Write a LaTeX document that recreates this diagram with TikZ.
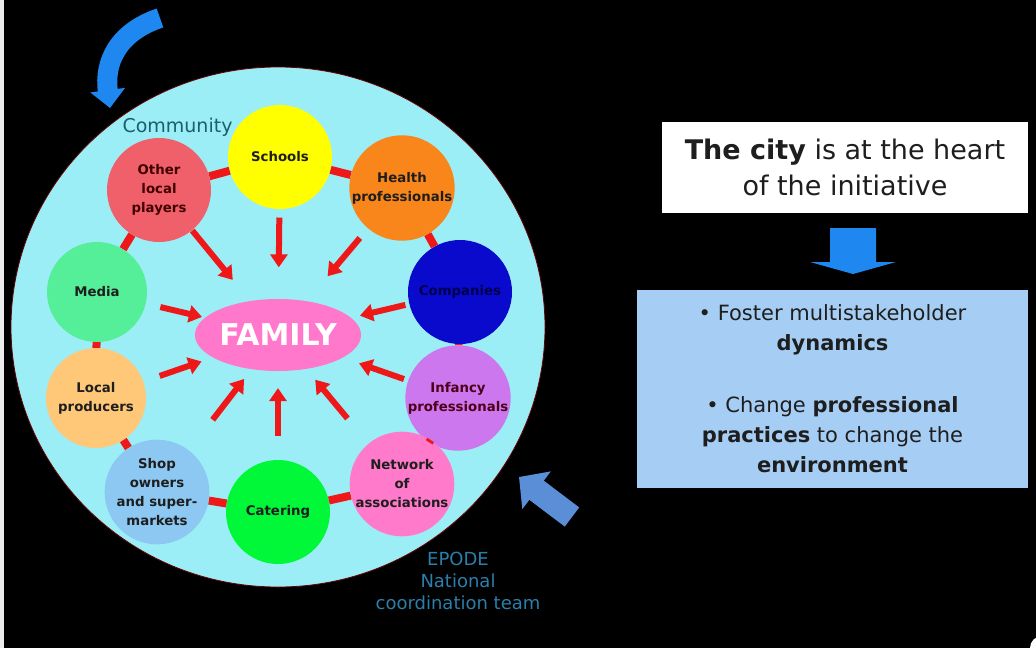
\documentclass[tikz,border=0pt]{standalone}
\usepackage{fontspec}
\setmainfont{DejaVu Sans}
\usetikzlibrary{arrows.meta,calc,shapes.geometric}
\definecolor{cyanbg}{HTML}{9CEEF6}
\definecolor{redl}{HTML}{EE1818}
\definecolor{cschool}{HTML}{FFFF00}
\definecolor{chealth}{HTML}{F8861A}
\definecolor{ccomp}{HTML}{0A0ACC}
\definecolor{cinf}{HTML}{CC77EE}
\definecolor{cnet}{HTML}{FF7ACB}
\definecolor{ccat}{HTML}{00F838}
\definecolor{cshop}{HTML}{8CC8F2}
\definecolor{cloc}{HTML}{FFC879}
\definecolor{cmedia}{HTML}{55EE99}
\definecolor{cother}{HTML}{F0606A}
\definecolor{cfam}{HTML}{FF78CC}
\definecolor{bluearr}{HTML}{1E88F0}
\definecolor{steel}{HTML}{5A8FD8}
\definecolor{teal}{HTML}{1A5F70}
\definecolor{epode}{HTML}{2A80AA}
\definecolor{boxblue}{HTML}{A6CEF4}
\definecolor{txt}{HTML}{1E1E1E}
\tikzset{
  actor/.style={circle, minimum size=104pt, inner sep=0pt, align=center,
    font=\fontsize{13.3}{19}\selectfont\bfseries, text=txt},
  link/.style={redl, line width=8pt},
  redarrow/.style={redl, line width=6pt, -{Triangle[width=17pt,length=13pt]}},
}
\begin{document}
\begin{tikzpicture}[x=1pt,y=-1pt]
\fill[black] (0,0) rectangle (1036,648);
\useasboundingbox (0,0) rectangle (1036,648);
\fill[white!85!gray] (0,0) rectangle (4,648);
\fill[white] (1042,648) circle (12pt);
% big community circle
\node[ellipse, fill=cyanbg, draw=red!40!black, line width=0.8pt, minimum width=534pt, minimum height=520pt, inner sep=0pt] (comm) at (278,327) {};
\node[text=teal, font=\fontsize{19}{21}\selectfont, anchor=west] (commlab) at (119,127) {Community};
% actors
\node[actor, fill=cschool] (sch) at (280,157) {Schools};
\node[actor, fill=chealth] (hea) at (402,188) {Health\\professionals};
\node[actor, fill=ccomp, text=blue!30!black] (com) at (460,292) {Companies};
\node[actor, fill=cinf, text=purple!40!black] (inf) at (458,398) {Infancy\\professionals};
\node[actor, fill=cnet] (net) at (402,484) {Network\\of\\associations};
\node[actor, fill=ccat] (cat) at (278,512) {Catering};
\node[actor, fill=cshop, minimum size=100pt] (sho) at (157,492) {Shop\\owners\\and super-\\markets};
\node[actor, fill=cloc, minimum size=100pt] (loc) at (96,398) {Local\\producers};
\node[actor, fill=cmedia, minimum size=100pt] (med) at (97,292) {Media};
\node[actor, fill=cother, text=red!25!black] (oth) at (159,190) {Other\\local\\players};
% red links
\draw[link] (oth) -- (sch);
\draw[link] (sch) -- (hea);
\draw[link] (hea) -- (com);
\draw[link] (com) -- (inf);
\draw[link] (inf) -- (net);
\draw[link] (net) -- (cat);
\draw[link] (cat) -- (sho);
\draw[link] (sho) -- (loc);
\draw[link] (loc) -- (med);
\draw[link] (med) -- (oth);
% family
\node[ellipse, fill=cfam, minimum width=158pt, minimum height=72pt, inner sep=0pt, text=white, font=\fontsize{30}{32}\selectfont\bfseries] (fam) at (278,335) {FAMILY};
% arrows to family
\draw[redarrow] ($(sch)!0.34!(fam)$) -- ($(sch)!0.62!(fam)$);
\draw[redarrow] ($(hea)!0.34!(fam)$) -- ($(hea)!0.60!(fam)$);
\draw[redarrow] ($(oth)!0.28!(fam)$) -- ($(oth)!0.62!(fam)$);
\draw[redarrow] ($(med)!0.35!(fam)$) -- ($(med)!0.58!(fam)$);
\draw[redarrow] ($(loc)!0.35!(fam)$) -- ($(loc)!0.58!(fam)$);
\draw[redarrow] ($(com)!0.30!(fam)$) -- ($(com)!0.55!(fam)$);
\draw[redarrow] ($(inf)!0.30!(fam)$) -- ($(inf)!0.55!(fam)$);
\draw[redarrow] ($(sho)!0.46!(fam)$) -- ($(sho)!0.72!(fam)$);
\draw[redarrow] ($(cat)!0.43!(fam)$) -- ($(cat)!0.70!(fam)$);
\draw[redarrow] ($(net)!0.44!(fam)$) -- ($(net)!0.70!(fam)$);
% top curved blue arrow
\coordinate (cs) at (160,18);
\coordinate (ce) at (110,108);
\draw[bluearr, line width=20pt, -{Triangle[width=34pt,length=18pt]}] (cs) .. controls (118,32) and (104,62) .. (ce);
% EPODE text
\node[text=epode, align=center, font=\fontsize{18}{22}\selectfont] (epo) at (458,581) {EPODE\\National\\coordination team};
% steel blue arrow
\coordinate (st) at (572,517);
\coordinate (sh) at (519,477);
\draw[steel, line width=24pt, -{Triangle[width=46pt,length=22pt]}] (st) -- (sh);
% right side
\node[fill=white, minimum width=366pt, minimum height=91pt, inner sep=0pt, align=center, text=txt, font=\fontsize{27}{36}\selectfont] (city) at (845,167.5) {\textbf{The city} is at the heart\\of the initiative};
\node[fill=boxblue, minimum width=391pt, minimum height=198pt, inner sep=0pt, align=center, text=txt, font=\fontsize{21}{30}\selectfont] (goals) at (832.5,389) {\textbullet\ Foster multistakeholder\\\textbf{dynamics}\\[32pt]\textbullet\ Change \textbf{professional}\\\textbf{practices} to change the\\\textbf{environment}};
\coordinate (dt) at (853,228);
\fill[bluearr] (dt) ++(-23,0) -- ++(46,0) -- ++(0,34) -- ++(20,0) -- (853,274) -- (810,262) -- (830,262) -- cycle;
\end{tikzpicture}
\end{document}
